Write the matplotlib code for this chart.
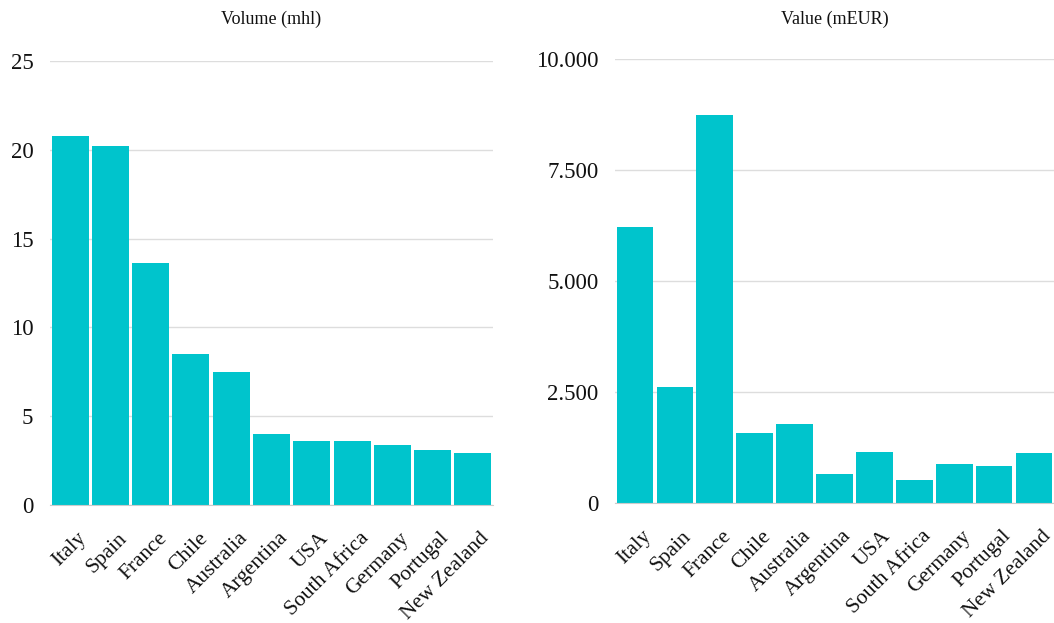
import matplotlib
matplotlib.use("Agg")
import matplotlib.pyplot as plt
from matplotlib.ticker import FuncFormatter
from matplotlib.transforms import ScaledTranslation

countries = ["Italy", "Spain", "France", "Chile", "Australia", "Argentina",
             "USA", "South Africa", "Germany", "Portugal", "New Zealand"]
volume_mhl = [20.8, 20.2, 13.6, 8.5, 7.5, 4.0, 3.6, 3.6, 3.4, 3.1, 2.9]
value_meur = [6220, 2615, 8730, 1585, 1780, 655, 1143, 526, 880, 841, 1134]

volume_ticks = [0, 5, 10, 15, 20, 25]
value_ticks = [0, 2500, 5000, 7500, 10000]

BAR = "#00C4CC"
GRID = "#dddddd"
TEXT = "#111111"

plt.rcParams["font.family"] = ["Liberation Serif", "DejaVu Serif"]

fig = plt.figure(figsize=(10.54, 6.23), dpi=100)
W, H = 1054, 623


def panel(left, right, top, bottom, values, ticks, title, fmt):
    ax = fig.add_axes([left / W, 1 - bottom / H, (right - left) / W, (bottom - top) / H])
    x = range(len(values))
    ax.bar(x, values, width=0.92, color=BAR, zorder=3)
    ax.set_xlim(-0.5, len(values) - 0.5)
    ax.set_ylim(ticks[0], ticks[-1])
    ax.set_yticks(ticks)
    ax.yaxis.set_major_formatter(FuncFormatter(fmt))
    ax.grid(axis="y", color=GRID, linewidth=1, zorder=0)
    for s in ("top", "right", "left"):
        ax.spines[s].set_visible(False)
    ax.spines["bottom"].set_color("#cccccc")
    ax.spines["bottom"].set_zorder(4)
    ax.tick_params(axis="both", length=0)
    ax.tick_params(axis="y", labelsize=16.5, pad=12, colors=TEXT)
    ax.set_xticks(list(x))
    ax.set_xticklabels(countries, rotation=45, ha="right", va="top",
                       rotation_mode="anchor", fontsize=15.5, color=TEXT)
    ax.tick_params(axis="x", pad=17)
    shift = ScaledTranslation(7 / 100, 0, fig.dpi_scale_trans)
    for lab in ax.get_xticklabels():
        lab.set_transform(lab.get_transform() + shift)
    fig.text((left + right) / 2 / W, 1 - 19 / H, title, ha="center", va="center",
             fontsize=13, color=TEXT)
    return ax


panel(50, 493, 61, 505, volume_mhl, volume_ticks, "Volume (mhl)",
      lambda v, p: f"{v:g}")
panel(615, 1054, 59, 503, value_meur, value_ticks, "Value (mEUR)",
      lambda v, p: f"{int(v):,}".replace(",", "."))

fig.savefig("out.png", dpi=100, facecolor="white")
